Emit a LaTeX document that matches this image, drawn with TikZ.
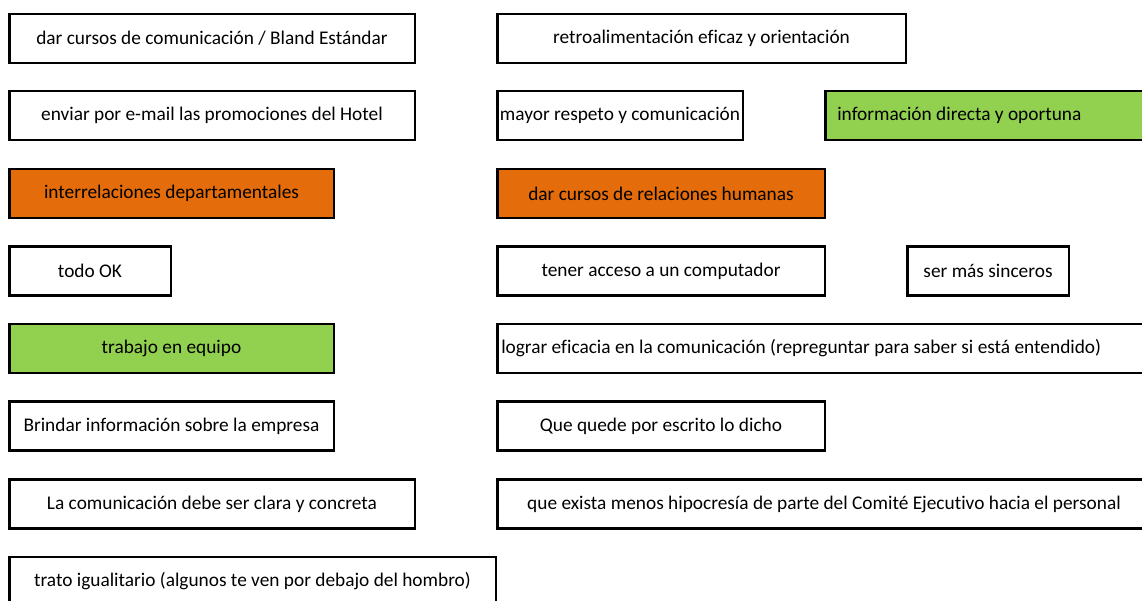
\documentclass[tikz,border=0pt]{standalone}
\usepackage{fontspec}
\setmainfont{Carlito}[Ligatures=CommonOff]
\usepackage{xcolor}
\usepackage{tikz}
\definecolor{cajanaranja}{RGB}{228,108,10}
\definecolor{cajaverde}{RGB}{146,208,80}

\begin{document}
\begin{tikzpicture}[x=0.75pt,y=-0.75pt]
  \def\u{0.75pt}
  \tikzset{
    texto/.style={inner sep=0pt, font=\fontsize{14.5pt}{17pt}\selectfont},
    caja/.style={texto, draw, line width=2.5*\u, minimum height=49*\u},
    naranja/.style={caja, fill=cajanaranja},
    verde/.style={caja, fill=cajaverde}
  }
  \clip (0,0) rectangle (1142,600);
  % columna izquierda
  \node[caja, minimum width=405.5*\u] (cursosCom) at (212,38.5) {dar cursos de comunicación / Bland Estándar};
  \node[caja, minimum width=405.5*\u] (email) at (212,115.5) {enviar por e-mail las promociones del Hotel};
  \node[naranja, minimum width=324.5*\u] (interrel) at (171.5,193.5) {interrelaciones departamentales};
  \node[caja, minimum width=161.5*\u] (todoOk) at (90,271) {todo OK};
  \node[verde, minimum width=324.5*\u] (equipo) at (171.5,348.5) {trabajo en equipo};
  \node[caja, minimum width=324.5*\u] (brindar) at (171.5,426) {Brindar información sobre la empresa};
  \node[caja, minimum width=405.5*\u] (clara) at (212,504) {La comunicación debe ser clara y concreta};
  \node[caja, minimum width=486.5*\u] (trato) at (252.5,581.5) {trato igualitario (algunos te ven por debajo del hombro)};
  % columna derecha
  \node[caja, minimum width=408.5*\u] (retro) at (701.5,38.5) {retroalimentación eficaz y orientación};
  \node[caja, minimum width=245.5*\u] (respeto) at (620,115.5) {mayor respeto y comunicación};
  \node[verde, minimum width=353.5*\u] (infoDirecta) at (1002,115.5) {};
  \node[texto, anchor=west] (infoDirectaTxt) at ([xshift=13*\u]infoDirecta.west) {información directa y oportuna};
  \node[naranja, minimum width=327.5*\u] (cursosRel) at (661,193.5) {dar cursos de relaciones humanas};
  \node[caja, minimum width=327.5*\u] (computador) at (661,271) {tener acceso a un computador};
  \node[caja, minimum width=161.5*\u] (sinceros) at (988,271) {ser más sinceros};
  \node[caja, minimum width=681.5*\u] (eficacia) at (838,348.5) {};
  \node[texto, anchor=west] (eficaciaTxt) at ([xshift=5*\u]eficacia.west) {lograr eficacia en la comunicación (repreguntar para saber si está entendido)};
  \node[caja, minimum width=327.5*\u] (escrito) at (661,426) {Que quede por escrito lo dicho};
  \node[caja, minimum width=653.5*\u] (hipocresia) at (824,504) {que exista menos hipocresía de parte del Comité Ejecutivo hacia el personal};
\end{tikzpicture}
\end{document}
